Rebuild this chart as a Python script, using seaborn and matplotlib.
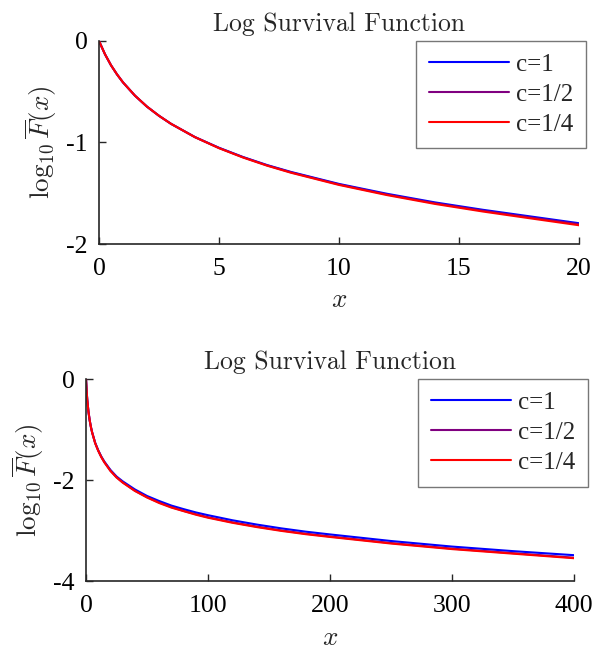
import numpy as np
import pandas as pd
import seaborn as sns
import matplotlib.pyplot as plt

# values
series_names = ["c=1", "c=1/2", "c=1/4"]
series_colors = ["#0000ff", "#800080", "#ff0000"]

x_top = [0, 0.25, 0.5, 0.75, 1, 1.5, 2, 2.5, 3, 4, 5, 6, 7, 8, 10, 12, 14, 16, 18, 20]
y_top_c1 = [0, -0.131, -0.239, -0.329, -0.408, -0.539, -0.647, -0.737, -0.816, -0.947,
            -1.052, -1.143, -1.222, -1.290, -1.408, -1.505, -1.590, -1.663, -1.729, -1.795]
y_top_c2 = [0, -0.131, -0.239, -0.329, -0.408, -0.539, -0.647, -0.737, -0.816, -0.947,
            -1.054, -1.145, -1.225, -1.294, -1.413, -1.512, -1.598, -1.672, -1.739, -1.805]
y_top_c4 = [0, -0.131, -0.239, -0.329, -0.408, -0.539, -0.647, -0.737, -0.816, -0.948,
            -1.056, -1.148, -1.228, -1.298, -1.418, -1.518, -1.605, -1.680, -1.748, -1.815]

x_bot = [0, 0.5, 1, 2, 3, 4, 5, 7.5, 10, 12.5, 15, 20, 25, 30, 40, 50, 60, 70, 80, 90, 100,
         120, 140, 160, 180, 200, 250, 300, 350, 400]
y_bot_c1 = [0, -0.239, -0.408, -0.647, -0.816, -0.947, -1.052, -1.26, -1.408, -1.53, -1.63,
            -1.795, -1.925, -2.02, -2.18, -2.31, -2.41, -2.50, -2.57, -2.635, -2.69,
            -2.79, -2.875, -2.95, -3.015, -3.07, -3.20, -3.31, -3.40, -3.48]
y_bot_c2 = [0, -0.239, -0.408, -0.647, -0.816, -0.947, -1.054, -1.265, -1.413, -1.537, -1.64,
            -1.810, -1.94, -2.04, -2.205, -2.335, -2.44, -2.53, -2.605, -2.67, -2.73,
            -2.83, -2.915, -2.99, -3.055, -3.11, -3.24, -3.35, -3.44, -3.53]
y_bot_c4 = [0, -0.239, -0.408, -0.647, -0.816, -0.948, -1.056, -1.268, -1.418, -1.542, -1.645,
            -1.815, -1.945, -2.045, -2.21, -2.34, -2.45, -2.54, -2.61, -2.68, -2.74,
            -2.84, -2.925, -3.00, -3.065, -3.12, -3.25, -3.36, -3.45, -3.54]


def long_frame(x, ys):
    parts = [pd.DataFrame({"x": x, "y": y, "c": name}) for name, y in zip(series_names, ys)]
    return pd.concat(parts, ignore_index=True)


df_top = long_frame(x_top, [y_top_c1, y_top_c2, y_top_c4])
df_bot = long_frame(x_bot, [y_bot_c1, y_bot_c2, y_bot_c4])

sns.set_theme(style="ticks")
plt.rcParams["font.family"] = ["Liberation Serif", "DejaVu Serif"]
plt.rcParams["mathtext.fontset"] = "cm"
plt.rcParams["axes.unicode_minus"] = False

axis_col = "#262626"
fig = plt.figure(figsize=(5.97, 6.53), dpi=100)
ax1 = fig.add_axes([0.1658, 0.6263, 0.804, 0.311])
ax2 = fig.add_axes([0.1441, 0.1095, 0.8174, 0.310])

setups = [
    (ax1, df_top, (0, 20), [0, 5, 10, 15, 20], (-2, 0), [-2, -1, 0], 1.0146),
    (ax2, df_bot, (0, 400), [0, 100, 200, 300, 400], (-4, 0), [-4, -2, 0], 1.029),
]
for ax, df, xl, xt, yl, yt, lx in setups:
    sns.lineplot(data=df, x="x", y="y", hue="c", hue_order=series_names,
                 palette=series_colors, linewidth=1.5, ax=ax)
    ax.set_xlim(*xl)
    ax.set_ylim(*yl)
    ax.set_xticks(xt)
    ax.set_yticks(yt)
    ax.set_yticklabels([str(v) for v in yt])
    ax.tick_params(direction="in", length=5, width=1, colors=axis_col,
                   labelcolor="black", labelsize=18.5)
    ax.tick_params(axis="x", pad=10)
    ax.tick_params(axis="y", pad=8)
    for side in ["top", "right"]:
        ax.spines[side].set_visible(False)
    for side in ["left", "bottom"]:
        ax.spines[side].set_color(axis_col)
        ax.spines[side].set_linewidth(1.2)
    ax.set_title("Log Survival Function", fontfamily="cmr10", fontsize=18.5, pad=7)
    ax.set_xlabel("$x$", fontsize=19.5, labelpad=6)
    ax.set_ylabel(r"$\log_{10}\overline{F}(x)$", fontsize=19.5, labelpad=5)
    leg = ax.legend(loc="upper right", bbox_to_anchor=(lx, 1.0), borderaxespad=0,
                    fontsize=18, frameon=True, fancybox=False, handlelength=3.2,
                    handletextpad=0.3, labelspacing=0.3, borderpad=0.5, title=None)
    leg.get_frame().set_edgecolor("#555555")
    leg.get_frame().set_linewidth(1.0)

fig.savefig("out.png", dpi=100)
